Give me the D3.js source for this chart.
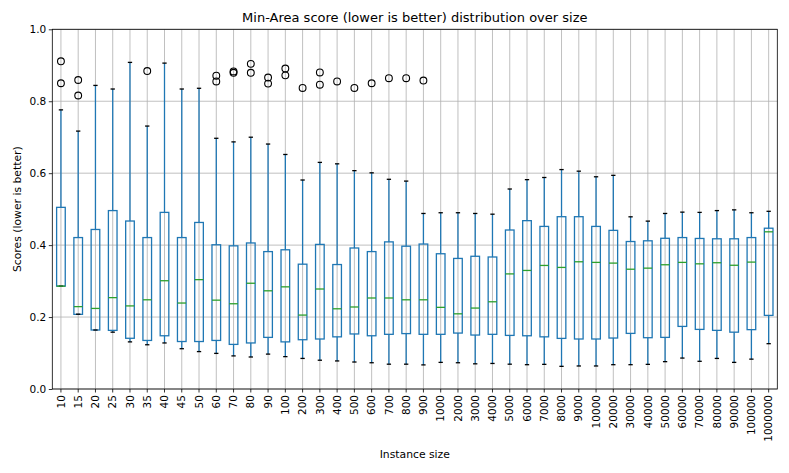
<!DOCTYPE html>
<html><head><meta charset="utf-8">
<script src="https://cdn.jsdelivr.net/npm/d3@7"></script>
<style>body{margin:0;background:#fff}svg{display:block;font-family:"DejaVu Sans",sans-serif}</style>
</head><body><svg id="c" width="789" height="473"></svg>
<script>
const categories = ["10","15","20","25","30","35","40","45","50","60","70","80","90","100","200","300","400","500","600","700","800","900","1000","2000","3000","4000","5000","6000","7000","8000","9000","10000","20000","30000","40000","50000","60000","70000","80000","90000","100000","1000000"];
const q3 =      [0.505,0.421,0.4435,0.496,0.467,0.421,0.491,0.421,0.463,0.401,0.398,0.406,0.382,0.387,0.347,0.402,0.346,0.392,0.382,0.409,0.397,0.403,0.376,0.363,0.369,0.367,0.442,0.468,0.452,0.479,0.479,0.452,0.441,0.410,0.412,0.419,0.421,0.4185,0.4176,0.4176,0.421,0.447];
const medians = [0.286,0.229,0.224,0.254,0.231,0.248,0.301,0.239,0.304,0.247,0.237,0.294,0.273,0.284,0.2055,0.278,0.223,0.228,0.253,0.253,0.248,0.248,0.227,0.209,0.225,0.2425,0.320,0.3296,0.3435,0.338,0.3537,0.352,0.350,0.333,0.336,0.3454,0.352,0.348,0.351,0.344,0.3528,0.437];
const q1 =      [0.286,0.2075,0.164,0.163,0.141,0.135,0.148,0.132,0.132,0.135,0.124,0.128,0.1435,0.131,0.137,0.139,0.145,0.153,0.148,0.152,0.154,0.152,0.152,0.1555,0.150,0.152,0.149,0.148,0.145,0.1407,0.139,0.139,0.1417,0.1546,0.1426,0.1435,0.174,0.1657,0.163,0.158,0.165,0.2046];
const whiskerLow =  [0.286,0.208,0.164,0.158,0.131,0.123,0.128,0.112,0.104,0.099,0.092,0.089,0.097,0.090,0.085,0.080,0.078,0.075,0.073,0.069,0.069,0.067,0.074,0.073,0.070,0.071,0.069,0.0676,0.0685,0.063,0.064,0.064,0.0676,0.0676,0.0685,0.076,0.086,0.077,0.085,0.074,0.083,0.126];
const whiskerHigh = [0.776,0.717,0.844,0.834,0.908,0.731,0.906,0.834,0.836,0.697,0.687,0.700,0.681,0.652,0.581,0.630,0.626,0.607,0.601,0.583,0.578,0.488,0.490,0.490,0.488,0.486,0.556,0.582,0.588,0.610,0.6056,0.590,0.594,0.4787,0.4667,0.488,0.4917,0.491,0.496,0.498,0.490,0.494];
const fliers = {
  "10":[0.911,0.850], "15":[0.859,0.816], "35":[0.884], "60":[0.871,0.855],
  "70":[0.883,0.879], "80":[0.904,0.879], "90":[0.866,0.849], "100":[0.891,0.872],
  "200":[0.837], "300":[0.880,0.846], "400":[0.855], "500":[0.837],
  "600":[0.850], "700":[0.864], "800":[0.864], "900":[0.8575]
};
const yTicks = [0, 0.2, 0.4, 0.6, 0.8, 1.0];
const titleText = "Min-Area score (lower is better) distribution over size";
const xLabel = "Instance size";
const yLabel = "Scores (lower is better)";

const W = 789, H = 473;
const m = {left: 52.3, right: 11.7, top: 29.3, bottom: 84};
const svg = d3.select("#c");
const x = d3.scaleBand().domain(categories).range([m.left, W - m.right]).paddingInner(0).paddingOuter(0);
const y = d3.scaleLinear().domain([0, 1]).range([H - m.bottom, m.top]);
const cx = c => x(c) + x.bandwidth() / 2;
const bw = x.bandwidth() * 0.5;

const grid = svg.append("g");
grid.selectAll("line.gx").data(categories).join("line")
  .attr("x1", d => cx(d)).attr("x2", d => cx(d))
  .attr("y1", m.top).attr("y2", H - m.bottom)
  .attr("stroke", "#b0b0b0").attr("stroke-width", 0.8);
grid.selectAll("line.gy").data(yTicks).join("line")
  .attr("x1", m.left).attr("x2", W - m.right)
  .attr("y1", d => y(d)).attr("y2", d => y(d))
  .attr("stroke", "#b0b0b0").attr("stroke-width", 0.8);

const data = categories.map((c, i) => ({c, q1: q1[i], med: medians[i], q3: q3[i], lo: whiskerLow[i], hi: whiskerHigh[i]}));
const g = svg.append("g");
const blue = "#1f77b4";
// whiskers
g.selectAll("line.wl").data(data).join("line")
  .attr("x1", d => cx(d.c)).attr("x2", d => cx(d.c))
  .attr("y1", d => y(d.q1)).attr("y2", d => y(d.lo))
  .attr("stroke", blue).attr("stroke-width", 1.3);
g.selectAll("line.wh").data(data).join("line")
  .attr("x1", d => cx(d.c)).attr("x2", d => cx(d.c))
  .attr("y1", d => y(d.q3)).attr("y2", d => y(d.hi))
  .attr("stroke", blue).attr("stroke-width", 1.3);
// boxes
g.selectAll("rect.box").data(data).join("rect")
  .attr("x", d => cx(d.c) - bw / 2).attr("width", bw)
  .attr("y", d => y(d.q3)).attr("height", d => y(d.q1) - y(d.q3))
  .attr("fill", "none").attr("stroke", blue).attr("stroke-width", 1.3);
// caps
["lo", "hi"].forEach(k => {
  g.selectAll("line.cap" + k).data(data).join("line")
    .attr("x1", d => cx(d.c) - bw / 4).attr("x2", d => cx(d.c) + bw / 4)
    .attr("y1", d => y(d[k])).attr("y2", d => y(d[k]))
    .attr("stroke", "#000").attr("stroke-width", 1.3);
});
// medians
g.selectAll("line.med").data(data).join("line")
  .attr("x1", d => cx(d.c) - bw / 2).attr("x2", d => cx(d.c) + bw / 2)
  .attr("y1", d => y(d.med)).attr("y2", d => y(d.med))
  .attr("stroke", "#2ca02c").attr("stroke-width", 1.3);
// fliers
const fl = [];
Object.keys(fliers).forEach(c => fliers[c].forEach(v => fl.push({c, v})));
g.selectAll("circle.fl").data(fl).join("circle")
  .attr("cx", d => cx(d.c)).attr("cy", d => y(d.v)).attr("r", 3.4)
  .attr("fill", "none").attr("stroke", "#000").attr("stroke-width", 1.1);

// axes
const xAxis = svg.append("g").attr("transform", `translate(0,${H - m.bottom})`)
  .call(d3.axisBottom(x).tickSize(3.5).tickSizeOuter(0));
xAxis.selectAll("text").attr("transform", "rotate(-90)")
  .attr("text-anchor", "end").attr("x", -6).attr("y", 0).attr("dy", "0.35em")
  .attr("font-size", 10.5).attr("fill", "#000");
const yAxis = svg.append("g").attr("transform", `translate(${m.left},0)`)
  .call(d3.axisLeft(y).tickValues(yTicks).tickFormat(d3.format(".1f")).tickSize(3.5).tickSizeOuter(0));
yAxis.selectAll("text").attr("font-size", 10.5).attr("fill", "#000").attr("x", -6);
[xAxis, yAxis].forEach(a => { a.select(".domain").remove(); a.selectAll("line").attr("stroke", "#000").attr("stroke-width", 0.8); a.attr("font-family", null); });

svg.append("rect").attr("x", m.left).attr("y", m.top)
  .attr("width", W - m.left - m.right).attr("height", H - m.top - m.bottom)
  .attr("fill", "none").attr("stroke", "#000").attr("stroke-width", 0.8);

svg.append("text").attr("x", (m.left + W - m.right) / 2).attr("y", 22)
  .attr("text-anchor", "middle").attr("font-size", 13).text(titleText);
svg.append("text").attr("x", (m.left + W - m.right) / 2).attr("y", 458)
  .attr("text-anchor", "middle").attr("font-size", 10.8).text(xLabel);
svg.append("text").attr("transform", `translate(21,${(m.top + H - m.bottom) / 2}) rotate(-90)`)
  .attr("text-anchor", "middle").attr("font-size", 10.8).text(yLabel);
</script></body></html>
